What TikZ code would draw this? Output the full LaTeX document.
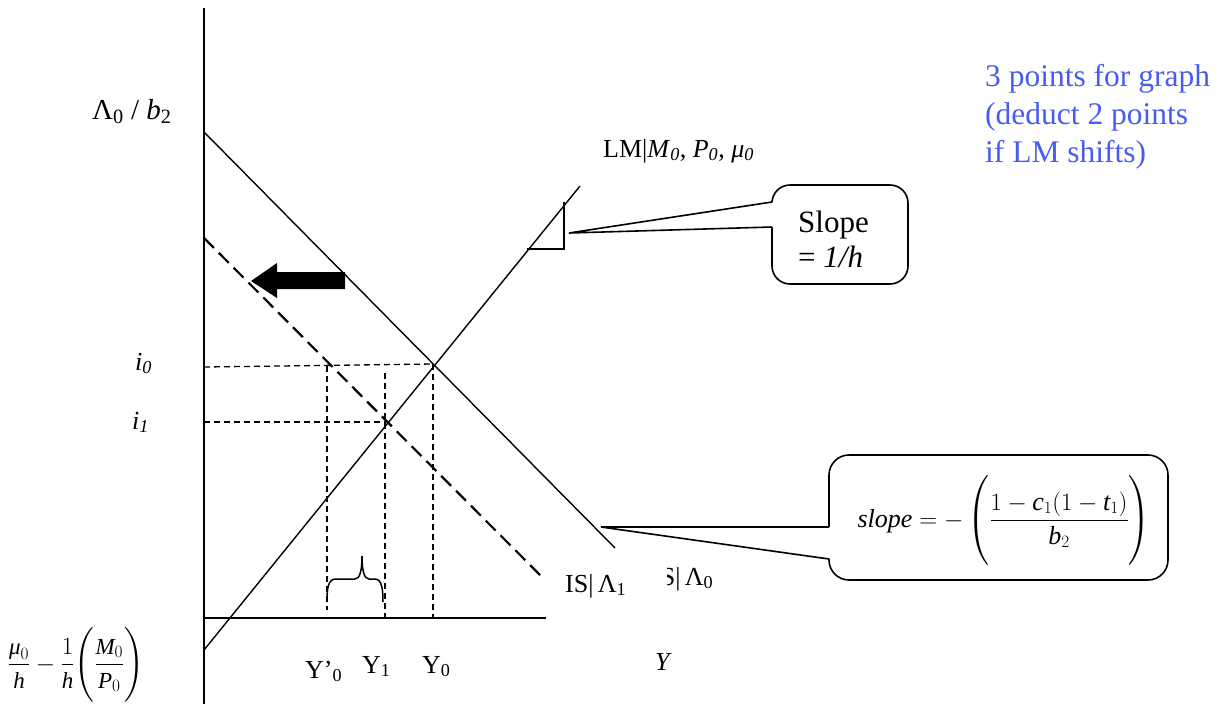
\documentclass[tikz,border=0pt]{standalone}
\usepackage{amsmath}
\usepackage{fontspec}
\setmainfont{Liberation Serif}
\usetikzlibrary{calc}
\definecolor{noteblue}{RGB}{72,92,238}
\tikzset{
  axisline/.style={line width=1.9pt},
  curveline/.style={line width=1.4pt},
  shiftline/.style={line width=2.2pt, dash pattern=on 14pt off 7pt},
  guideline/.style={line width=1.3pt, dash pattern=on 6pt off 4pt},
  lbl/.style={inner sep=0pt, font=\fontsize{26}{31}\selectfont},
  boxline/.style={line width=1.6pt},
}
\begin{document}
\begin{tikzpicture}[x=1pt,y=-1pt]
\useasboundingbox (0,0) rectangle (1228,704);
% coordinates
\coordinate (ytop) at (204,8);
\coordinate (ybot) at (204,704);
\coordinate (O) at (204,618);
\coordinate (xend) at (546,618);
\coordinate (is0a) at (204,132);
\coordinate (is0b) at (615,548);
\coordinate (is1a) at (204,238);
\coordinate (is1b) at (543,578);
\coordinate (lma) at (204,650);
\coordinate (lmb) at (580,186);
\coordinate (E0) at (433,364);
\coordinate (E1) at (386,422);
\coordinate (i0) at (204,367);
\coordinate (i1) at (204,422);
\coordinate (Q) at (327,366);
\coordinate (Qb) at (327,610);
\coordinate (Y1t) at (385,373);
\coordinate (Y1b) at (385,618);
\coordinate (Y0b) at (433,618);
% axes
\draw[axisline] (ytop) -- (ybot);
\draw[axisline] (O) -- (xend);
% curves
\draw[curveline] (is0a) -- (is0b);
\draw[shiftline] (is1a) -- (is1b);
\draw[curveline] (lma) -- (lmb);
% guides
\draw[guideline] (i0) -- (E0);
\draw[guideline] (i1) -- (E1);
\draw[guideline] (Q) -- (Qb);
\draw[guideline] (Y1t) -- (Y1b);
\draw[guideline] (E0) -- (Y0b);
% slope triangle
\coordinate (ta) at (527,249);
\coordinate (tb) at (564,249);
\coordinate (tc) at (564,202);
\draw[line width=1.4pt] (ta) -- (tb) -- (tc);
% brace
\draw[line width=1.5pt] (327,602) .. controls (327,588) and (328,579) .. (336,579)
  -- (355,579) .. controls (360,579) and (362,570) .. (362,556)
  .. controls (362,570) and (364,579) .. (369,579) -- (375,579)
  .. controls (382,579) and (383,590) .. (383,602);
% thick arrow
\fill (251,281) -- (277,263) -- (277,272) -- (345,272) -- (345,289) -- (277,289) -- (277,298) -- cycle;
% callout 1
\coordinate (c1tl) at (772,185);
\coordinate (c1br) at (908,284);
\coordinate (c1tip) at (569,233);
\coordinate (c1u) at (772,202);
\coordinate (c1d) at (772,227);
\draw[boxline, fill=white, rounded corners=18pt] (c1tl) rectangle (c1br);
\fill[white] (c1tip) -- ($(c1u)+(3,0)$) -- ($(c1d)+(3,0)$) -- cycle;
\draw[boxline, line join=miter] (c1u) -- (c1tip) -- (c1d);
\node[inner sep=0pt, anchor=base west, font=\fontsize{31}{35}\selectfont] (slopeA) at (798,232) {Slope};
\node[inner sep=0pt, anchor=base west, font=\fontsize{31}{35}\selectfont] (slopeB) at (798,267) {= \textit{1/h}};
% callout 2
\coordinate (c2tl) at (829,455);
\coordinate (c2br) at (1168,580);
\coordinate (c2tip) at (601,527);
\coordinate (c2u) at (829,527);
\coordinate (c2d) at (829,559);
\draw[boxline, fill=white, rounded corners=20pt] (c2tl) rectangle (c2br);
\fill[white] (c2tip) -- ($(c2u)+(3,0)$) -- ($(c2d)+(3,0)$) -- cycle;
\draw[boxline, line join=miter] (c2u) -- (c2tip) -- (c2d);
\node[inner sep=0pt, anchor=base, font=\fontsize{26}{31}\selectfont] (isslope) at (1004,527)
  {$\displaystyle \textit{slope} = -\left(\rule[-31pt]{0pt}{78pt}\frac{1-\textit{c}_1(1-\textit{t}_1)}{\textit{b}_2}\right)$};
% labels
\node[inner sep=0pt, anchor=base west, font=\fontsize{29}{34}\selectfont] (lamb) at (92,119) {Λ\textsubscript{0} / \textit{b}\textsubscript{2}};
\node[lbl, anchor=base west] (li0) at (135,370) {\textit{i}\textsubscript{\textit{0}}};
\node[lbl, anchor=base west] (li1) at (132,429) {\textit{i}\textsubscript{\textit{1}}};
\node[lbl, anchor=base west] (lLM) at (603,157) {LM|\textit{M}\textsubscript{\textit{0}}, \textit{P}\textsubscript{\textit{0}}, \textit{μ}\textsubscript{\textit{0}}};
\node[lbl, anchor=base west] (lYp) at (305,678) {Y’\textsubscript{0}};
\node[lbl, anchor=base west] (lY1) at (362,673) {Y\textsubscript{1}};
\node[lbl, anchor=base west] (lY0) at (422,673) {Y\textsubscript{0}};
\node[lbl, anchor=base west] (lY) at (655,670) {\textit{Y}};
\node[lbl, anchor=base west] (lIS1) at (565,592) {IS|\,Λ\textsubscript{1}};
\begin{scope}
\clip (667,540) rectangle (760,620);
\node[lbl, anchor=base west] (lIS0) at (652,585) {IS|\,Λ\textsubscript{0}};
\end{scope}
\node[inner sep=0pt, anchor=base, font=\fontsize{23}{27}\selectfont] (intercept) at (76,671)
  {$\displaystyle \frac{\textit{μ}_0}{\textit{h}} - \frac{1}{\textit{h}}\!\left(\rule[-30pt]{0pt}{64pt}\frac{\textit{M}_0}{\textit{P}_0}\right)$};
% note
\node[inner sep=0pt, anchor=north west, align=left, text=noteblue, font=\fontsize{31.5}{38}\selectfont] (note) at (985,64)
  {3 points for graph\\(deduct 2 points\\if LM shifts)};
\end{tikzpicture}
\end{document}
